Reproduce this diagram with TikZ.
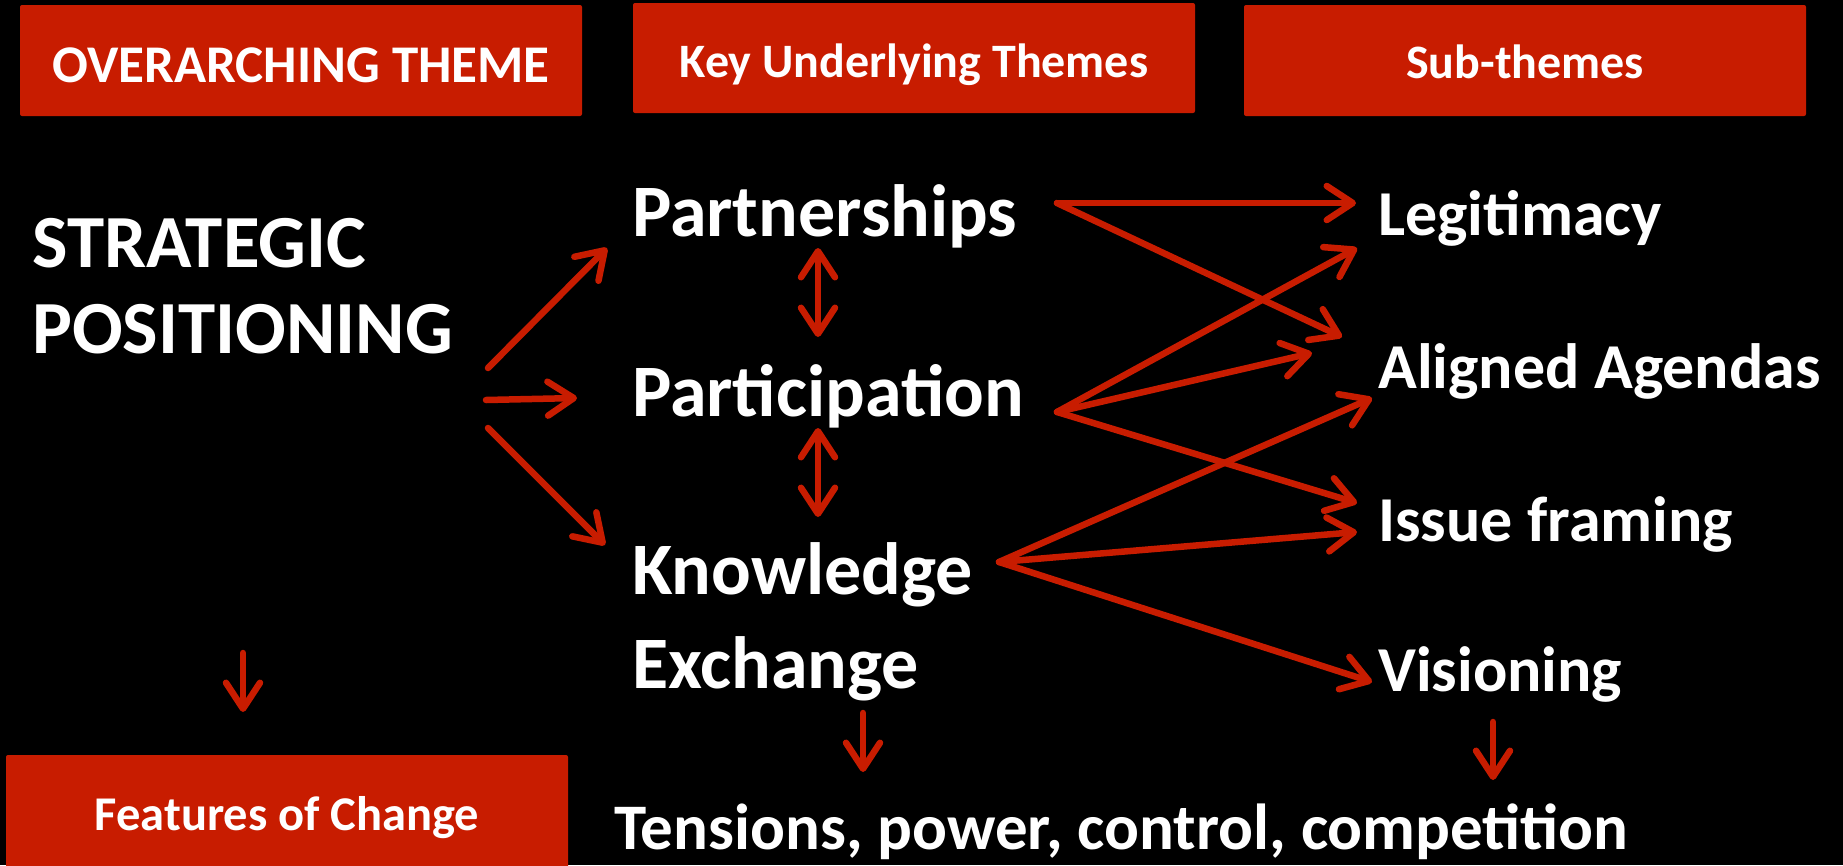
\documentclass[tikz,border=0pt]{standalone}
\usepackage{fontspec}
\setmainfont{Carlito}
\usetikzlibrary{arrows.meta}
\definecolor{slidered}{RGB}{200,28,0}

\begin{document}
\begin{tikzpicture}[x=1pt,y=-1pt,
  redbox/.style={fill=slidered, draw=none, rounded corners=2pt},
  hdr/.style={text=white, anchor=base, inner sep=0pt},
  big/.style={text=white, anchor=base west, inner sep=0pt, align=left},
  link/.style={draw=slidered, line width=6.5pt, line cap=round,
    -{Straight Barb[length=26pt,width=34pt,round]}},
  twoway/.style={draw=slidered, line width=6.5pt, line cap=round,
    {Straight Barb[length=26pt,width=34pt,round]}-{Straight Barb[length=26pt,width=34pt,round]}}
]
% canvas
\fill[black] (0,0) rectangle (1843,865);
\useasboundingbox (0,0) rectangle (1843,865);

% header boxes
\fill[redbox] (20,5) rectangle (582,116);
\fill[redbox] (633,3) rectangle (1195,113);
\fill[redbox] (1244,5) rectangle (1806,116);
\fill[redbox] (6,755) rectangle (568,875);

\node[hdr, font=\bfseries\fontsize{53}{60}\selectfont] (tOver) at (301,82) {OVERARCHING THEME};
\node[hdr, font=\bfseries\fontsize{48}{52}\selectfont] (tKey) at (914,77) {Key Underlying Themes};
\node[hdr, font=\bfseries\fontsize{48}{52}\selectfont] (tSub) at (1525,78) {Sub-themes};
\node[hdr, font=\bfseries\fontsize{48.5}{52}\selectfont] (tFeat) at (287,830) {Features of Change};

% main labels (multi-line nodes are placed by the baseline of their last line)
\node[big, font=\bfseries\fontsize{75}{86}\selectfont] (strat) at (32,353) {STRATEGIC\\POSITIONING};
\node[big, font=\bfseries\fontsize{74}{94}\selectfont] (part) at (632,236) {Partnerships};
\node[big, font=\bfseries\fontsize{74}{94}\selectfont] (partc) at (632,416) {Participation};
\node[big, font=\bfseries\fontsize{74}{94}\selectfont] (know) at (632,688) {Knowledge\\Exchange};

\node[big, font=\bfseries\fontsize{64}{76}\selectfont] (legit) at (1378,235) {Legitimacy};
\node[big, font=\bfseries\fontsize{64}{76}\selectfont] (align) at (1378,388) {Aligned Agendas};
\node[big, font=\bfseries\fontsize{64}{76}\selectfont] (issue) at (1378,541) {Issue framing};
\node[big, font=\bfseries\fontsize{64}{76}\selectfont] (vision) at (1378,691) {Visioning};

\node[big, font=\bfseries\fontsize{65}{76}\selectfont] (tens) at (614,849) {Tensions, power, control, competition};

% connector end points
\coordinate (sA) at (488,368); \coordinate (eA) at (607,248);
\coordinate (sB) at (486,400); \coordinate (eB) at (577,398);
\coordinate (sC) at (488,428); \coordinate (eC) at (605,545);

\coordinate (d1a) at (818,248); \coordinate (d1b) at (818,337);
\coordinate (d2a) at (818,428); \coordinate (d2b) at (818,517);

\coordinate (oP) at (1057,203);
\coordinate (oPa) at (1057,412);
\coordinate (oK) at (999,562);
\coordinate (inL1) at (1356,203);
\coordinate (inL2) at (1357,248);
\coordinate (inA1) at (1342,337);
\coordinate (inA2) at (1312,353);
\coordinate (inA3) at (1372,398);
\coordinate (inI1) at (1357,503);
\coordinate (inI2) at (1357,532);
\coordinate (inV) at (1372,682);

\coordinate (dn1a) at (243,653); \coordinate (dn1b) at (243,712);
\coordinate (dn2a) at (863,713); \coordinate (dn2b) at (863,772);
\coordinate (dn3a) at (1493,722); \coordinate (dn3b) at (1493,780);

% strategic positioning to the key themes
\draw[link] (sA) -- (eA);
\draw[link] (sB) -- (eB);
\draw[link] (sC) -- (eC);

% links between key themes
\draw[twoway] (d1a) -- (d1b);
\draw[twoway] (d2a) -- (d2b);

% key themes to sub-themes
\draw[link] (oP) -- (inL1);
\draw[link] (oP) -- (inA1);
\draw[link] (oPa) -- (inL2);
\draw[link] (oPa) -- (inA2);
\draw[link] (oPa) -- (inI1);
\draw[link] (oK) -- (inA3);
\draw[link] (oK) -- (inI2);
\draw[link] (oK) -- (inV);

% downward arrows
\draw[link] (dn1a) -- (dn1b);
\draw[link] (dn2a) -- (dn2b);
\draw[link] (dn3a) -- (dn3b);
\end{tikzpicture}
\end{document}
